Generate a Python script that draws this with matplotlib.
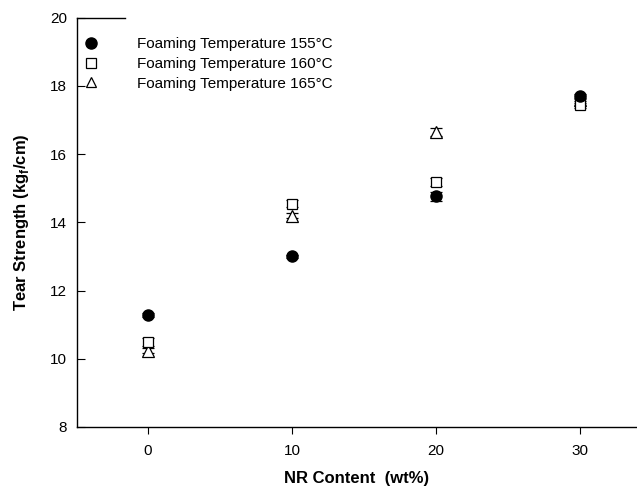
import matplotlib
matplotlib.use("Agg")
import matplotlib.pyplot as plt
from matplotlib.lines import Line2D

plt.rcParams['font.family'] = ['Liberation Sans', 'DejaVu Sans']
plt.rcParams['mathtext.fontset'] = 'custom'
plt.rcParams['mathtext.rm'] = 'Liberation Sans'
plt.rcParams['mathtext.bf'] = 'Liberation Sans:bold'

nr_content = [0, 10, 20, 30]
ts_155 = [11.28, 13.00, 14.76, 17.70]
err_155 = [0.05, 0.05, 0.12, 0.07]
ts_160 = [10.50, 14.55, 15.18, 17.45]
err_160 = [0.12, 0.10, 0.12, 0.10]
ts_165 = [10.24, 14.20, 16.65, 17.58]
err_165 = [0.08, 0.06, 0.12, 0.08]
labels = ["Foaming Temperature 155°C",
          "Foaming Temperature 160°C",
          "Foaming Temperature 165°C"]

fig = plt.figure(figsize=(6.37, 4.93), dpi=100)
ax = fig.add_axes([0.121, 0.134, 0.879, 0.830])

ax.errorbar(nr_content, ts_155, yerr=err_155, fmt='o', ms=8, color='black',
            mfc='black', mec='black', ecolor='black', elinewidth=0.8,
            capsize=4.5, capthick=0.9, zorder=3)
ax.errorbar(nr_content, ts_160, yerr=err_160, fmt='s', ms=7.5, color='black',
            mfc='white', mec='black', mew=0.9, ecolor='black', elinewidth=0.8,
            capsize=4.5, capthick=0.9, zorder=2)
ax.errorbar(nr_content, ts_165, yerr=err_165, fmt='^', ms=8, color='black',
            mfc='white', mec='black', mew=0.9, ecolor='black', elinewidth=0.8,
            capsize=4.5, capthick=0.9, zorder=1)

ax.set_xlim(-4.93, 33.96)
ax.set_ylim(8, 20)
ax.set_xticks(nr_content)
ax.set_yticks([8, 10, 12, 14, 16, 18, 20])
ax.tick_params(axis='x', direction='out', length=5, width=0.8, labelsize=11, pad=7)
ax.tick_params(axis='y', direction='in', length=6, width=0.8, labelsize=11, pad=7)

for side in ['top', 'right']:
    ax.spines[side].set_visible(False)
for side in ['left', 'bottom']:
    ax.spines[side].set_linewidth(1.0)

# short cap line at the top of the y axis
ax.plot([-4.93, -1.6], [20, 20], color='black', lw=1.0, clip_on=False)

ax.set_xlabel("NR Content  (wt%)", fontsize=12, fontweight='bold', labelpad=10)
ax.set_ylabel(r"Tear Strength (kg$_\mathbf{f}$/cm)", fontsize=12,
              fontweight='bold', labelpad=14)

handles = [
    Line2D([], [], marker='o', ls='none', ms=8, mfc='black', mec='black'),
    Line2D([], [], marker='s', ls='none', ms=7, mfc='white', mec='black', mew=0.9),
    Line2D([], [], marker='^', ls='none', ms=7.5, mfc='white', mec='black', mew=0.9),
]
ax.legend(handles, labels, loc='upper left', bbox_to_anchor=(-0.005, 0.975),
          frameon=False, fontsize=11, handletextpad=2.5, labelspacing=0.38,
          borderaxespad=0.2, handlelength=1.0)

fig.savefig("out.png", dpi=100)
